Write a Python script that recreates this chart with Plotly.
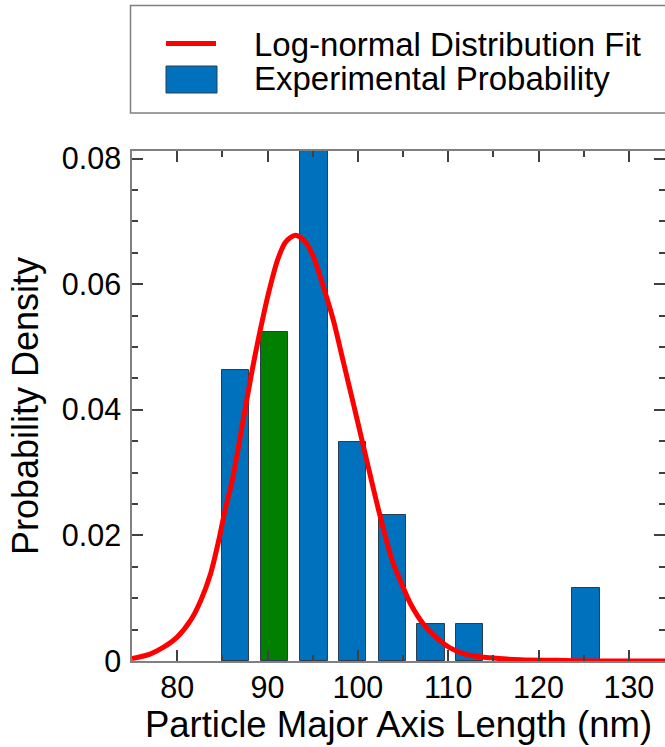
import plotly.graph_objects as go

# Histogram of particle major-axis lengths (bin centres in nm, probability density)
bin_centers = [86.5, 90.8, 95.15, 99.45, 103.8, 108.1, 112.4, 125.25]
densities = [0.0464, 0.0524, 0.0814, 0.0348, 0.0233, 0.0059, 0.0059, 0.0117]
highlight_bin = 1  # bin drawn in green

# Log-normal fit curve, sampled along the length axis
fit_x = [75, 77, 78.5, 80, 81.5, 82.6, 83.7, 84.6, 85.3, 86.1, 87.2, 88.3, 89.2,
         90.1, 91.1, 92.0, 93.1, 94.2, 95.1, 96.2, 97.3, 98.4, 99.5, 100.5, 101.4,
         102.3, 103.8, 104.7, 105.8, 107.3, 108.8, 110.2, 112.1, 114.7, 118, 122,
         126, 130, 134]
fit_y = [0.0004, 0.0011, 0.0022, 0.0038, 0.0065, 0.0096, 0.0139, 0.0192, 0.0240,
         0.0288, 0.0375, 0.0463, 0.0527, 0.0585, 0.0638, 0.0667, 0.0678, 0.0667,
         0.0643, 0.0595, 0.0542, 0.0476, 0.0410, 0.0349, 0.0294, 0.0240, 0.0160,
         0.0128, 0.0092, 0.0058, 0.0036, 0.0021, 0.0010, 0.0005, 0.0002, 0.0001,
         0.0, 0.0, 0.0]

x_tick_vals = [80, 90, 100, 110, 120, 130]
x_tick_text = ["80", "90", "100", "110", "120", "130"]
y_tick_vals = [0, 0.02, 0.04, 0.06, 0.08]
y_tick_text = ["0", "0.02", "0.04", "0.06", "0.08"]

legend_labels = ["Log-normal Distribution Fit", "Experimental Probability"]

BLUE = "#0072BD"
GREEN = "#007F00"
RED = "#FF0000"
FONT = "Liberation Sans, Arial, sans-serif"

W, H = 665, 747
ML, MR, MT, MB = 132, 0, 151, 86
PW, PH = W - ML - MR, H - MT - MB


def px_x(px):
    return (px - ML) / PW


def px_y(py):
    return (H - MB - py) / PH


bar_colors = [GREEN if i == highlight_bin else BLUE for i in range(len(bin_centers))]

fig = go.Figure()
fig.add_trace(go.Bar(
    x=bin_centers, y=densities, width=3.0,
    marker=dict(color=bar_colors, line=dict(color="#2a3d52", width=1)),
    showlegend=False,
))
fig.add_trace(go.Scatter(
    x=fit_x, y=fit_y, mode="lines",
    line=dict(color=RED, width=5, shape="spline", smoothing=0.8),
    showlegend=False,
))

axis_common = dict(
    showline=True, linecolor="#808080", linewidth=1.5, mirror="ticks",
    ticks="inside", ticklen=11, tickwidth=1.5, tickcolor="#404040",
    showgrid=False, zeroline=False,
    tickfont=dict(family=FONT, size=30.5, color="#000000"),
)

fig.update_xaxes(
    range=[75, 134], tickmode="array", tickvals=x_tick_vals, ticktext=x_tick_text,
    minor=dict(tickmode="linear", tick0=75, dtick=5, ticks="inside", ticklen=6,
               tickwidth=1.5, tickcolor="#404040"),
    title=dict(text="Particle Major Axis Length (nm)", standoff=6,
               font=dict(family=FONT, size=36.5, color="#000000")),
    ticklabelstandoff=-1,
    **axis_common,
)
fig.update_yaxes(
    range=[0, 0.0812], tickmode="array", tickvals=y_tick_vals, ticktext=y_tick_text,
    minor=dict(tickmode="linear", tick0=0, dtick=0.005, ticks="inside", ticklen=6,
               tickwidth=1.5, tickcolor="#404040"),
    title=dict(text="Probability Density", standoff=12,
               font=dict(family=FONT, size=36, color="#000000")),
    ticklabelstandoff=3,
    **axis_common,
)

# Legend box drawn with shapes and annotations
shapes = [
    dict(type="rect", xref="paper", yref="paper",
         x0=px_x(130.5), x1=px_x(672), y0=px_y(5.5), y1=px_y(113),
         line=dict(color="#808080", width=1.5), fillcolor="white", layer="above"),
    dict(type="line", xref="paper", yref="paper",
         x0=px_x(166), x1=px_x(216), y0=px_y(43.5), y1=px_y(43.5),
         line=dict(color=RED, width=5), layer="above"),
    dict(type="rect", xref="paper", yref="paper",
         x0=px_x(166), x1=px_x(217), y0=px_y(66), y1=px_y(93),
         line=dict(color="#2a3d52", width=1), fillcolor=BLUE, layer="above"),
]
annotations = [
    dict(text=legend_labels[0], xref="paper", yref="paper", x=px_x(252), y=px_y(44),
         xanchor="left", yanchor="middle", showarrow=False,
         font=dict(family=FONT, size=33, color="#000000")),
    dict(text=legend_labels[1], xref="paper", yref="paper", x=px_x(252), y=px_y(78),
         xanchor="left", yanchor="middle", showarrow=False,
         font=dict(family=FONT, size=33, color="#000000")),
]

fig.update_layout(
    width=W, height=H,
    margin=dict(l=ML, r=MR, t=MT, b=MB, autoexpand=False),
    plot_bgcolor="white", paper_bgcolor="white",
    shapes=shapes, annotations=annotations,
    bargap=0, showlegend=False,
)

fig.write_html("out.html")
